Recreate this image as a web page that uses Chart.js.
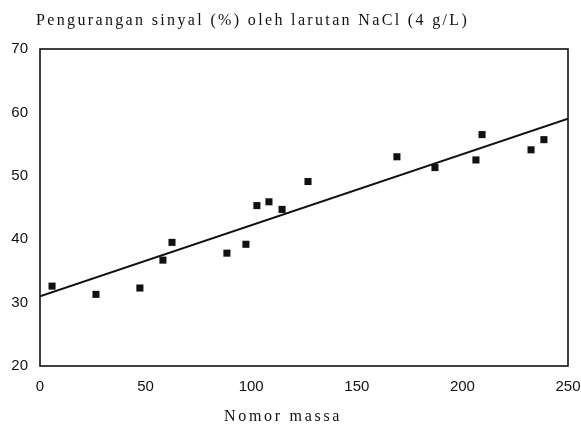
<!DOCTYPE html>
<html>
<head>
<meta charset="utf-8">
<script src="https://cdn.jsdelivr.net/npm/chart.js@4"></script>
<style>
  html, body { margin: 0; padding: 0; background: #fff; }
  #wrap { position: relative; width: 581px; height: 425px; }
  .lbl { position: absolute; font-family: "Liberation Serif", "Times New Roman", serif; color: #111; white-space: nowrap; font-size: 16px; line-height: 16px; }
  #title { left: 36px; top: 12px; letter-spacing: 2.35px; }
  #xtitle { left: 224px; top: 408px; letter-spacing: 2.7px; }
</style>
</head>
<body>
<div id="wrap">
  <canvas id="chart" width="581" height="425"></canvas>
  <div class="lbl" id="title">Pengurangan sinyal (%) oleh larutan NaCl (4 g/L)</div>
  <div class="lbl" id="xtitle">Nomor massa</div>
</div>
<script>
// mass number vs signal reduction (%)
const massNumbers = [5.7, 26.5, 47.3, 58.2, 62.5, 88.5, 97.5, 102.7, 108.4, 114.6, 126.9, 169, 187, 206.4, 209.3, 232.5, 238.6];
const signalLoss = [32.6, 31.3, 32.3, 36.7, 39.5, 37.8, 39.2, 45.3, 45.9, 44.7, 49.1, 53.0, 51.3, 52.5, 56.5, 54.1, 55.7];

// fitted line end points
const fitX = [0, 250];
const fitY = [31.0, 59.0];

const xTicks = [0, 50, 100, 150, 200, 250];
const yTicks = [20, 30, 40, 50, 60, 70];

// draw the full frame around the plot
const frameBox = {
    id: 'frameBox',
    afterDatasetsDraw(chart) {
        const a = chart.chartArea;
        const ctx = chart.ctx;
        ctx.save();
        ctx.strokeStyle = '#111';
        ctx.lineWidth = 1.6;
        ctx.strokeRect(a.left, a.top, a.right - a.left, a.bottom - a.top);
        ctx.restore();
    }
};

new Chart(document.getElementById('chart'), {
    type: 'scatter',
    data: {
        datasets: [{
            data: massNumbers.map((x, i) => ({ x: x, y: signalLoss[i] })),
            pointStyle: 'rect',
            pointRadius: 5,
            pointBorderWidth: 0,
            backgroundColor: '#111',
            borderColor: '#111'
        }, {
            type: 'line',
            data: fitX.map((x, i) => ({ x: x, y: fitY[i] })),
            borderColor: '#111',
            borderWidth: 2,
            pointRadius: 0,
            fill: false
        }]
    },
    options: {
        responsive: false,
        animation: false,
        events: [],
        layout: { padding: { top: 49, right: 13, left: 0, bottom: 0 } },
        plugins: { legend: { display: false }, tooltip: { enabled: false } },
        scales: {
            x: {
                type: 'linear',
                min: 0,
                max: 250,
                afterBuildTicks: s => { s.ticks = xTicks.map(v => ({ value: v })); },
                afterFit: s => { s.height = 59; s.paddingLeft = 0; s.paddingRight = 0; },
                grid: { display: false, drawTicks: false },
                border: { display: false },
                ticks: { color: '#111', padding: 12, maxRotation: 0, font: { family: 'Liberation Sans', size: 15 } }
            },
            y: {
                min: 20,
                max: 70,
                afterBuildTicks: s => { s.ticks = yTicks.map(v => ({ value: v })); },
                afterFit: s => { s.width = 40; s.paddingTop = 0; s.paddingBottom = 0; },
                grid: { display: false, drawTicks: false },
                border: { display: false },
                ticks: { color: '#111', padding: 12, font: { family: 'Liberation Sans', size: 15 } }
            }
        }
    },
    plugins: [frameBox]
});
</script>
</body>
</html>
